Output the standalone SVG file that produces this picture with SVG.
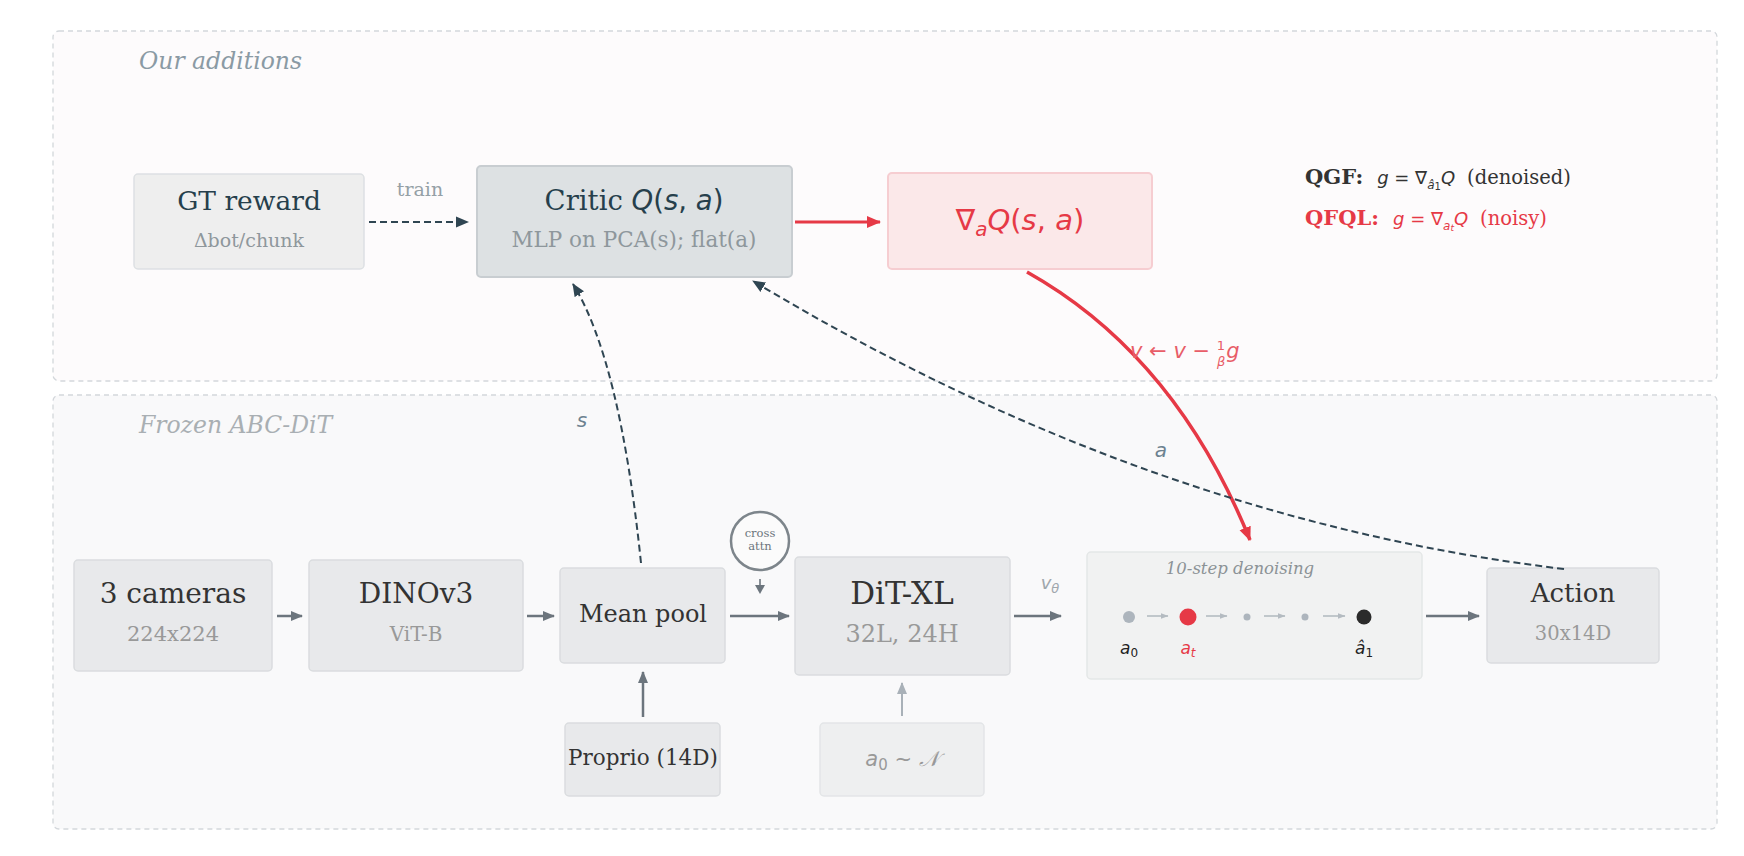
<svg xmlns="http://www.w3.org/2000/svg" width="1744" height="856" viewBox="0 0 1744 856">
<defs>
<style>
.panel{stroke:#d3d7db;stroke-width:1.3;stroke-dasharray:5 4}
.ptitle{font-family:"DejaVu Serif",serif;font-style:italic;font-size:23.5px}
.node{fill:#e8e9eb;stroke:#dadcdf;stroke-width:1.5}
.t1{font-family:"DejaVu Serif",serif;font-size:28px;fill:#333;text-anchor:middle}
.t2{font-family:"DejaVu Serif",serif;font-size:21px;fill:#999;text-anchor:middle}
.m{font-family:"DejaVu Sans",sans-serif;font-style:italic}
.ser{font-family:"DejaVu Serif",serif}
.garrow{stroke:#6c757d;stroke-width:2.5;fill:none}
.dash{stroke:#2f4552;stroke-width:2;fill:none;stroke-dasharray:7 4}
.red{stroke:#e63946;fill:none}
.tiny{stroke:#b4bbc1;stroke-width:1.6;fill:none}
</style>
<marker id="ag" markerUnits="userSpaceOnUse" markerWidth="12" markerHeight="12" viewBox="0 0 12 12" refX="11" refY="6" orient="auto"><path d="M0,1 L12,6 L0,11 Z" fill="#6c757d"/></marker>
<marker id="al" markerUnits="userSpaceOnUse" markerWidth="12" markerHeight="12" viewBox="0 0 12 12" refX="11" refY="6" orient="auto"><path d="M0,1 L12,6 L0,11 Z" fill="#a9b1b8"/></marker>
<marker id="as" markerUnits="userSpaceOnUse" markerWidth="8" markerHeight="8" viewBox="0 0 8 8" refX="7.5" refY="4" orient="auto"><path d="M0,1 L8,4 L0,7 Z" fill="#b4bbc1"/></marker>
<marker id="ad" markerUnits="userSpaceOnUse" markerWidth="13" markerHeight="13" viewBox="0 0 13 13" refX="12" refY="6.5" orient="auto"><path d="M0,1 L13,6.5 L0,12 Z" fill="#2f4552"/></marker>
<marker id="ar" markerUnits="userSpaceOnUse" markerWidth="14" markerHeight="14" viewBox="0 0 14 14" refX="13" refY="7" orient="auto"><path d="M0,1 L14,7 L0,13 Z" fill="#e63946"/></marker>
</defs>
<rect width="1744" height="856" fill="#ffffff"/>

<g id="panel-additions">
<rect class="panel" x="53" y="31" width="1664" height="350" rx="6" fill="#fdfbfc"/>
<text class="ptitle" x="139" y="69" fill="#8a9aa4">Our additions</text>
</g>
<g id="panel-frozen">
<rect class="panel" x="53" y="395" width="1664" height="434" rx="6" fill="#f9f9fa"/>
<text class="ptitle" x="139" y="433" fill="#a9afb3">Frozen ABC-DiT</text>
</g>

<g id="gt-reward">
<rect x="134" y="174" width="230" height="95" rx="4" fill="#eeeeee" stroke="#dde0e3" stroke-width="1.5"/>
<text class="t1" x="249" y="210" style="fill:#263f4c;font-size:26.5px">GT reward</text>
<text class="t2" x="249" y="247" style="fill:#8e979c;font-size:19px">Δbot/chunk</text>
</g>
<g id="critic">
<rect x="477" y="166" width="315" height="111" rx="4" fill="#dde1e3" stroke="#c8cdd1" stroke-width="2"/>
<text class="t1" x="634" y="210" style="fill:#263f4c;font-size:27.5px">Critic <tspan class="m">Q</tspan><tspan class="m" style="font-style:normal">(</tspan><tspan class="m">s</tspan><tspan class="m" style="font-style:normal">, </tspan><tspan class="m">a</tspan><tspan class="m" style="font-style:normal">)</tspan></text>
<text class="t2" x="634" y="247" style="fill:#8e979c;font-size:21.5px">MLP on PCA(s); flat(a)</text>
</g>
<g id="grad-q">
<rect x="888" y="173" width="264" height="96" rx="4" fill="#fbe8e9" stroke="#f6cdd1" stroke-width="2"/>
<text x="1020" y="230" text-anchor="middle" style="font-family:'DejaVu Sans',sans-serif;font-size:29px;fill:#e63946">∇<tspan class="m" dy="6" style="font-size:20px">a</tspan><tspan class="m" dy="-6">Q</tspan>(<tspan class="m">s</tspan>, <tspan class="m">a</tspan>)</text>
</g>
<g id="legend">
<text x="1305" y="184" style="font-size:18px;fill:#333"><tspan class="ser" style="font-weight:bold;font-size:21px">QGF:</tspan><tspan class="m" dx="14">g</tspan><tspan style="font-family:'DejaVu Sans',sans-serif"> = ∇</tspan><tspan class="m" dy="5" style="font-size:12px">â</tspan><tspan style="font-family:'DejaVu Sans',sans-serif;font-size:10px" dy="1">1</tspan><tspan class="m" dy="-6">Q</tspan><tspan class="ser" dx="12" style="font-size:19.5px">(denoised)</tspan></text>
<text x="1305" y="225" style="font-size:18px;fill:#e63946"><tspan class="ser" style="font-weight:bold;font-size:21px">QFQL:</tspan><tspan class="m" dx="14">g</tspan><tspan style="font-family:'DejaVu Sans',sans-serif"> = ∇</tspan><tspan class="m" dy="5" style="font-size:12px">a</tspan><tspan class="m" style="font-size:9px" dy="1">t</tspan><tspan class="m" dy="-6">Q</tspan><tspan class="ser" dx="12" style="font-size:19.5px">(noisy)</tspan></text>
</g>

<g id="cameras">
<rect class="node" x="74" y="560" width="198" height="111" rx="4"/>
<text class="t1" x="173" y="603">3 cameras</text>
<text class="t2" x="173" y="641">224x224</text>
</g>
<g id="dinov3">
<rect class="node" x="309" y="560" width="214" height="111" rx="4"/>
<text class="t1" x="416" y="603">DINOv3</text>
<text class="t2" x="416" y="641" style="font-size:20px">ViT-B</text>
</g>
<g id="mean-pool">
<rect class="node" x="560" y="568" width="165" height="95" rx="4"/>
<text class="t1" x="643" y="622" style="font-size:24px">Mean pool</text>
</g>
<g id="proprio">
<rect class="node" x="565" y="723" width="155" height="73" rx="4"/>
<text class="t1" x="643" y="765" style="font-size:21.5px">Proprio (14D)</text>
</g>
<g id="cross-attn">
<circle cx="760" cy="541" r="29" fill="#fbfbfb" stroke="#7d858b" stroke-width="2.5"/>
<text x="760" y="537" text-anchor="middle" class="ser" style="font-size:11.5px;fill:#6c757d">cross</text>
<text x="760" y="550" text-anchor="middle" class="ser" style="font-size:11.5px;fill:#6c757d">attn</text>
</g>
<g id="dit-xl">
<rect class="node" x="795" y="557" width="215" height="118" rx="4"/>
<text class="t1" x="902" y="604" style="font-size:31px">DiT-XL</text>
<text class="t2" x="902" y="642" style="font-size:24px">32L, 24H</text>
</g>
<g id="noise">
<rect x="820" y="723" width="164" height="73" rx="4" fill="#eeeff0" stroke="#e3e5e7" stroke-width="1.5"/>
<text x="902" y="766" text-anchor="middle" style="font-family:'DejaVu Sans',sans-serif;font-size:21px;fill:#999"><tspan class="m">a</tspan><tspan style="font-size:15px" dy="4">0</tspan><tspan dy="-4"> ~ </tspan><tspan style="font-family:'DejaVu Serif',serif;font-style:italic">𝒩</tspan></text>
</g>
<g id="denoising">
<rect x="1087" y="552" width="335" height="127" rx="4" fill="#f1f2f2" stroke="#e4e7e7" stroke-width="1.5"/>
<text x="1240" y="574" text-anchor="middle" class="ser" style="font-style:italic;font-size:16.5px;fill:#8c9296">10-step denoising</text>
<circle cx="1129" cy="617" r="6" fill="#adb5bd"/>
<circle cx="1188" cy="617" r="8.5" fill="#e63946"/>
<circle cx="1247" cy="617" r="3.5" fill="#adb5bd"/>
<circle cx="1305" cy="617" r="3.5" fill="#adb5bd"/>
<circle cx="1364" cy="617" r="7.5" fill="#2b2b2b"/>
<path class="tiny" d="M1147,616 H1168" marker-end="url(#as)"/>
<path class="tiny" d="M1206,616 H1227" marker-end="url(#as)"/>
<path class="tiny" d="M1264,616 H1285" marker-end="url(#as)"/>
<path class="tiny" d="M1323,616 H1345" marker-end="url(#as)"/>
<text x="1129" y="654" text-anchor="middle" style="font-family:'DejaVu Sans',sans-serif;font-size:17px;fill:#222"><tspan class="m">a</tspan><tspan style="font-size:12px" dy="3">0</tspan></text>
<text x="1188" y="654" text-anchor="middle" style="font-family:'DejaVu Sans',sans-serif;font-size:17px;fill:#e63946"><tspan class="m">a</tspan><tspan class="m" style="font-size:12px" dy="3">t</tspan></text>
<text x="1364" y="654" text-anchor="middle" style="font-family:'DejaVu Sans',sans-serif;font-size:17px;fill:#222"><tspan class="m">â</tspan><tspan style="font-size:12px" dy="3">1</tspan></text>
</g>
<g id="action">
<rect class="node" x="1487" y="568" width="172" height="95" rx="4"/>
<text class="t1" x="1573" y="602" style="font-size:26px">Action</text>
<text class="t2" x="1573" y="640" style="font-size:19.5px">30x14D</text>
</g>

<g id="connectors">
<path class="dash" d="M369,222 H468" marker-end="url(#ad)"/>
<text x="420" y="196" text-anchor="middle" class="ser" style="font-size:19px;fill:#95a0a6">train</text>
<path class="red" stroke-width="3" d="M795,222 H880" marker-end="url(#ar)"/>
<path class="red" stroke-width="3.5" d="M1027,272 Q1175,355 1250,540" marker-end="url(#ar)"/>
<text x="1130" y="358" style="font-family:'DejaVu Sans',sans-serif;font-size:21px;fill:#e85d68"><tspan class="m">v</tspan> ← <tspan class="m">v</tspan> − <tspan style="font-size:13px" dy="-8">1</tspan><tspan class="m" style="font-size:13px" dx="-8" dy="16">β</tspan><tspan class="m" dx="1" dy="-8">g</tspan></text>
<path class="dash" d="M641,563 Q620,360 573,284" marker-end="url(#ad)"/>
<text x="582" y="427" text-anchor="middle" class="m" style="font-size:20px;fill:#6d8290">s</text>
<path class="dash" d="M1564,569 Q1150,520 753,281" marker-end="url(#ad)"/>
<text x="1161" y="457" text-anchor="middle" class="m" style="font-size:20px;fill:#6d8290">a</text>
<path class="garrow" d="M277,616 H302" marker-end="url(#ag)"/>
<path class="garrow" d="M527,616 H554" marker-end="url(#ag)"/>
<path class="garrow" d="M730,616 H789" marker-end="url(#ag)"/>
<path class="garrow" d="M643,717 V672" marker-end="url(#ag)"/>
<path stroke="#6c757d" stroke-width="1.6" d="M760,579 V588"/>
<path d="M755,585 L760,594 L765,585 Z" fill="#6c757d"/>
<path stroke="#a9b1b8" stroke-width="2" d="M902,716 V683" marker-end="url(#al)"/>
<path class="garrow" d="M1014,616 H1061" marker-end="url(#ag)"/>
<text x="1050" y="589" text-anchor="middle" style="font-family:'DejaVu Sans',sans-serif;font-size:18px;fill:#a0a7ad"><tspan class="m">v</tspan><tspan class="m" style="font-size:13px" dy="4">θ</tspan></text>
<path class="garrow" d="M1426,616 H1479" marker-end="url(#ag)"/>
</g>
</svg>
